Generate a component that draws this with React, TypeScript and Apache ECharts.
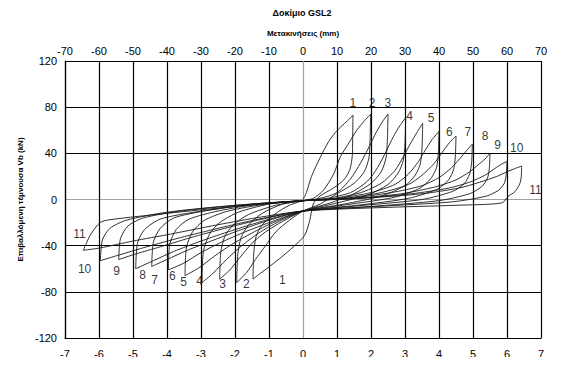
import React, { useEffect, useRef } from "react";
import * as echarts from "echarts";

const titleText = "Δοκίμιο GSL2";
const topAxisName = "Μετακινήσεις (mm)";
const yAxisName = "Επιβαλλόμενη τέμνουσα Vb (kN)";

const bottomTicks = { min: -7, max: 7, interval: 1 };
const topTicks = { min: -70, max: 70, interval: 10 };
const yTicks = { min: -120, max: 120, interval: 40 };

const loop1 = [
  [0, 0], [0.1, 6], [0.25, 20], [0.5, 36], [0.75, 50], [0.95, 58], [1.15, 64], [1.3, 68], [1.47, 73],
  [1.46, 52], [1.45, 38], [1.38, 26], [1.2, 17], [0.9, 10], [0.5, 3], [0.3, -4],
  [0.2, -18], [0.05, -31], [-0.28, -41], [-0.68, -51], [-1.07, -60], [-1.3, -65], [-1.47, -69],
  [-1.45, -47], [-1.38, -32], [-1.2, -22], [-0.8, -12], [-0.4, -5], [0, -1],
];
const loop2 = [
  [0, -1], [0.3, 1], [0.6, 8], [0.9, 22], [1.1, 37], [1.35, 49], [1.58, 60], [1.8, 68], [1.99, 74],
  [1.97, 50], [1.94, 36], [1.8, 24], [1.5, 14], [1.0, 5], [0.5, -4], [0, -10],
  [-0.4, -18], [-0.8, -28], [-1.1, -40], [-1.4, -52], [-1.65, -63], [-1.95, -72],
  [-1.92, -48], [-1.82, -33], [-1.6, -22], [-1.2, -12], [-0.6, -4], [0, -1],
];
const loop3 = [
  [0, -1], [0.5, 1], [1.0, 6], [1.4, 18], [1.7, 32], [1.95, 46], [2.15, 58], [2.35, 68], [2.5, 74],
  [2.48, 50], [2.44, 36], [2.3, 24], [2.0, 14], [1.5, 5], [0.8, -3], [0, -10],
  [-0.6, -19], [-1.1, -28], [-1.5, -38], [-1.85, -50], [-2.15, -61], [-2.45, -69],
  [-2.42, -46], [-2.3, -32], [-2.05, -22], [-1.6, -13], [-0.8, -5], [0, -1],
];
const loop4 = [
  [0, -1], [0.7, 1], [1.4, 6], [1.9, 16], [2.2, 28], [2.45, 42], [2.65, 54], [2.85, 64], [3.02, 71],
  [3.0, 48], [2.95, 34], [2.8, 23], [2.5, 13], [1.9, 4], [1.0, -3], [0, -10],
  [-0.7, -19], [-1.3, -29], [-1.8, -40], [-2.25, -52], [-2.65, -64], [-2.97, -72],
  [-2.93, -45], [-2.75, -30], [-2.45, -20], [-1.9, -11], [-1.0, -4], [0, -1],
];
const loop5 = [
  [0, -1], [0.9, 1], [1.7, 6], [2.3, 14], [2.7, 25], [2.95, 37], [3.15, 48], [3.35, 58], [3.52, 66],
  [3.5, 44], [3.45, 31], [3.3, 21], [3.0, 12], [2.3, 3], [1.2, -4], [0, -10],
  [-0.8, -19], [-1.5, -29], [-2.1, -39], [-2.6, -49], [-3.05, -59], [-3.47, -66],
  [-3.43, -42], [-3.25, -28], [-2.9, -18], [-2.2, -10], [-1.1, -4], [0, -1],
];
const loop6 = [
  [0, -1], [1.0, 1], [2.0, 6], [2.7, 13], [3.1, 22], [3.4, 33], [3.6, 43], [3.8, 52], [4.0, 59],
  [3.98, 40], [3.93, 28], [3.78, 19], [3.45, 10], [2.7, 2], [1.4, -4], [0, -10],
  [-0.9, -19], [-1.7, -28], [-2.4, -37], [-3.0, -46], [-3.5, -55], [-3.96, -61],
  [-3.92, -39], [-3.73, -26], [-3.35, -17], [-2.5, -10], [-1.3, -4], [0, -1],
];
const loop7 = [
  [0, -1], [1.2, 1], [2.3, 6], [3.1, 13], [3.5, 21], [3.85, 31], [4.1, 41], [4.3, 49], [4.5, 55],
  [4.48, 37], [4.43, 26], [4.28, 17], [3.95, 9], [3.1, 1], [1.6, -5], [0, -10],
  [-1.0, -18], [-1.9, -27], [-2.7, -36], [-3.4, -44], [-4.0, -52], [-4.45, -58],
  [-4.4, -37], [-4.2, -25], [-3.8, -16], [-2.9, -10], [-1.5, -4], [0, -1],
];
const loop8 = [
  [0, -1], [1.3, 1], [2.6, 6], [3.5, 12], [4.0, 19], [4.35, 27], [4.6, 35], [4.8, 42], [4.98, 48],
  [4.96, 32], [4.9, 22], [4.75, 14], [4.4, 7], [3.5, 0], [1.8, -5], [0, -10],
  [-1.1, -18], [-2.1, -27], [-3.0, -36], [-3.8, -45], [-4.4, -53], [-4.92, -60],
  [-4.87, -38], [-4.66, -26], [-4.2, -17], [-3.2, -11], [-1.7, -5], [0, -1],
];
const loop9 = [
  [0, -1], [1.5, 1], [2.9, 5], [3.9, 11], [4.5, 17], [4.9, 24], [5.15, 30], [5.35, 35], [5.5, 40],
  [5.48, 27], [5.42, 18], [5.25, 11], [4.9, 5], [4.0, -1], [2.0, -6], [0, -10],
  [-1.2, -17], [-2.3, -25], [-3.3, -33], [-4.2, -41], [-4.9, -47], [-5.42, -52],
  [-5.37, -34], [-5.15, -23], [-4.7, -16], [-3.6, -10], [-1.9, -5], [0, -1],
];
const loop10 = [
  [0, -1], [1.6, 1], [3.2, 5], [4.3, 10], [4.9, 15], [5.35, 21], [5.6, 26], [5.8, 30], [6.0, 33],
  [5.98, 22], [5.92, 14], [5.75, 8], [5.4, 3], [4.4, -2], [2.2, -6], [0, -10],
  [-1.3, -17], [-2.5, -25], [-3.6, -33], [-4.6, -41], [-5.4, -48], [-5.96, -53],
  [-5.9, -35], [-5.68, -25], [-5.2, -18], [-4.0, -11], [-2.0, -5], [0, -1],
];
const loop11 = [
  [0, -1], [1.7, 1], [3.5, 5], [4.6, 10], [5.2, 15], [5.7, 20], [6.0, 24], [6.25, 27], [6.43, 29],
  [6.42, 20], [6.38, 14], [6.24, 7], [6.03, 2.6], [5.85, -3], [4.5, -5], [2.3, -7], [0, -10],
  [-1.4, -16], [-2.7, -23], [-3.9, -30], [-5.0, -36], [-5.97, -42], [-6.46, -44],
  [-6.26, -31], [-5.97, -20], [-5.68, -17.5], [-4.0, -12], [-2.0, -6], [0, -1],
];
const loops = [loop1, loop2, loop3, loop4, loop5, loop6, loop7, loop8, loop9, loop10, loop11];

const labelNames = ["1", "2", "3", "4", "5", "6", "7", "8", "9", "10", "11"];
const posLabelX = [1.48, 2.05, 2.51, 3.15, 3.78, 4.32, 4.86, 5.37, 5.74, 6.3, 6.85];
const posLabelY = [83, 83, 83, 72, 70, 58, 58, 55, 47, 44, 8];
const negLabelX = [-0.59, -1.65, -2.35, -3.03, -3.5, -3.83, -4.35, -4.7, -5.47, -6.41, -6.56];
const negLabelY = [-70, -74, -74, -71, -72, -67, -70, -66, -62, -61, -30];

const FONT = "'Liberation Sans', Arial, sans-serif";

export default function App() {
  const ref = useRef<HTMLDivElement>(null);
  useEffect(() => {
    if (!ref.current) return;
    const chart = echarts.init(ref.current, null, { renderer: "svg" });
    const xColors = [];
    for (let v = bottomTicks.min; v <= bottomTicks.max; v += bottomTicks.interval) {
      xColors.push(v === 0 ? "#a0a0a0" : "#000");
    }
    const yColors = [];
    for (let v = yTicks.min; v <= yTicks.max; v += yTicks.interval) {
      yColors.push(v === 0 ? "#a0a0a0" : "#000");
    }
    const labelStyle = {
      show: true,
      position: [0, 0],
      align: "center",
      verticalAlign: "middle",
      color: "#000",
      fontSize: 12,
      fontFamily: FONT,
    };
    const labelData = [];
    labelNames.forEach((n, i) => {
      labelData.push({ name: n, value: [posLabelX[i], posLabelY[i]], label: { ...labelStyle, formatter: n } });
      labelData.push({ name: n, value: [negLabelX[i], negLabelY[i]], label: { ...labelStyle, formatter: n } });
    });
    chart.setOption({
      animation: false,
      color: ["#000"],
      textStyle: { fontFamily: FONT },
      title: {
        text: titleText,
        left: 297,
        top: 3,
        textAlign: "center",
        textStyle: { fontSize: 9, fontWeight: "bold", color: "#000", fontFamily: FONT },
      },
      grid: { left: 65, right: 22, top: 61, bottom: 27 },
      xAxis: [
        {
          type: "value",
          position: "bottom",
          min: bottomTicks.min,
          max: bottomTicks.max,
          interval: bottomTicks.interval,
          axisLine: { show: true, onZero: false, lineStyle: { color: "#000", width: 1.2 } },
          axisTick: { show: false },
          axisLabel: { color: "#000", fontSize: 11, margin: 10, fontFamily: FONT },
          splitLine: { show: true, lineStyle: { color: xColors, width: 1.2 } },
        },
        {
          type: "value",
          position: "top",
          min: topTicks.min,
          max: topTicks.max,
          interval: topTicks.interval,
          name: topAxisName,
          nameLocation: "middle",
          nameGap: 24,
          nameTextStyle: { fontSize: 8, fontWeight: "bold", color: "#000", fontFamily: FONT },
          axisLine: { show: false },
          axisTick: { show: false },
          axisLabel: { color: "#000", fontSize: 11, margin: 5, fontFamily: FONT },
          splitLine: { show: false },
        },
      ],
      yAxis: {
        type: "value",
        min: yTicks.min,
        max: yTicks.max,
        interval: yTicks.interval,
        name: yAxisName,
        nameLocation: "middle",
        nameGap: 40,
        nameRotate: 90,
        nameTextStyle: { fontSize: 8, fontWeight: "bold", color: "#000", fontFamily: FONT },
        axisLine: { show: true, onZero: false, lineStyle: { color: "#000", width: 1.2 } },
        axisTick: { show: false },
        axisLabel: { color: "#000", fontSize: 11, margin: 8, fontFamily: FONT },
        splitLine: { show: true, lineStyle: { color: yColors, width: 1.2 } },
      },
      series: [
        ...loops.map((d, i) => ({
          type: "line",
          name: "loop" + (i + 1),
          data: d,
          xAxisIndex: 0,
          smooth: 0.25,
          symbol: "none",
          lineStyle: { color: "#1a1a1a", width: 0.9 },
          itemStyle: { color: "#1a1a1a" },
          z: 3,
        })),
        {
          type: "scatter",
          data: labelData,
          symbolSize: 1,
          xAxisIndex: 0,
          itemStyle: { color: "rgba(0,0,0,0)" },
          label: labelStyle,
          emphasis: { disabled: true },
          z: 5,
        },
      ],
    });
    return () => chart.dispose();
  }, []);
  return <div ref={ref} style={{ width: 563, height: 365, margin: -8 }} />;
}
